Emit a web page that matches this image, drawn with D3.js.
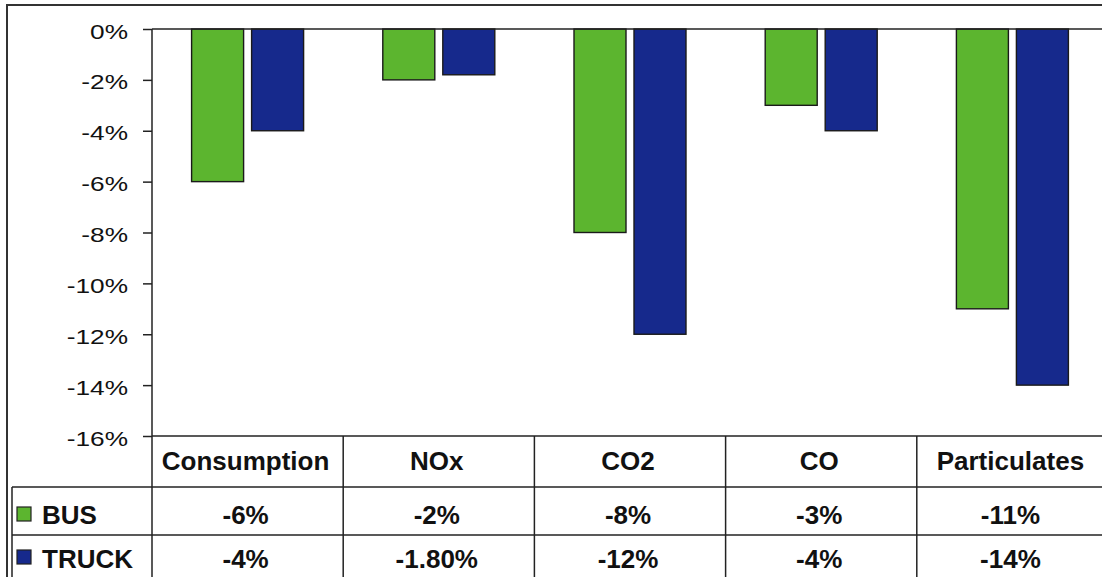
<!DOCTYPE html>
<html>
<head>
<meta charset="utf-8">
<script src="https://cdn.jsdelivr.net/npm/d3@7"></script>
<style>
  html, body { margin: 0; padding: 0; background: #fff; }
  svg { display: block; }
  text { font-family: "Liberation Sans", Arial, sans-serif; fill: #111; }
</style>
</head>
<body>
<svg id="chart" width="1102" height="577"></svg>
<script>
// Emission reductions by pollutant, for buses and trucks
const categories = ["Consumption", "NOx", "CO2", "CO", "Particulates"];
const series = ["BUS", "TRUCK"];
const busValues = [-6, -2, -8, -3, -11];
const truckValues = [-4, -1.8, -12, -4, -14];
const busLabels = ["-6%", "-2%", "-8%", "-3%", "-11%"];
const truckLabels = ["-4%", "-1.80%", "-12%", "-4%", "-14%"];
const yTicks = [0, -2, -4, -6, -8, -10, -12, -14, -16];

const colors = { BUS: "#5cb52f", TRUCK: "#16298c" };
const valuesBySeries = { BUS: busValues, TRUCK: truckValues };
const labelsBySeries = { BUS: busLabels, TRUCK: truckLabels };

const svg = d3.select("#chart");
const lineColor = "#222";

const plotLeft = 152, plotRight = 1108;
const yTop = 29, yBottom = 436;
const rowBusTop = 487, rowTruckTop = 535;

const x0 = d3.scaleBand().domain(categories).range([plotLeft, plotRight]);
const y = d3.scaleLinear().domain([0, -16]).range([yTop, yBottom]);

// inner scale places the two bars of each group around the band centre
const groupHalf = 56;
const x1 = d3.scaleBand().domain(series)
  .range([x0.bandwidth() / 2 - groupHalf, x0.bandwidth() / 2 + groupHalf])
  .paddingInner(8 / 60).paddingOuter(0);

// outer frame
svg.append("path")
  .attr("d", "M7,577 L7,5 L1102,5")
  .attr("fill", "none").attr("stroke", "#333").attr("stroke-width", 2);

// bars
const groups = svg.append("g").selectAll("g")
  .data(categories).join("g")
  .attr("transform", d => `translate(${x0(d)},0)`);

groups.selectAll("rect")
  .data((d, i) => series.map(s => ({ s, v: valuesBySeries[s][i] })))
  .join("rect")
  .attr("x", d => x1(d.s))
  .attr("width", x1.bandwidth())
  .attr("y", y(0))
  .attr("height", d => y(d.v) - y(0))
  .attr("fill", d => colors[d.s])
  .attr("stroke", "#1a1a1a").attr("stroke-width", 1.4);

// value axis
const yAxis = svg.append("g").attr("transform", `translate(${plotLeft},0)`)
  .call(d3.axisLeft(y).tickValues(yTicks).tickSize(9).tickFormat(d => d + "%"));
yAxis.select(".domain").remove();
yAxis.selectAll(".tick line").attr("stroke", lineColor).attr("stroke-width", 1.5);
yAxis.selectAll(".tick text")
  .attr("x", 0).attr("dy", 0)
  .attr("text-anchor", "end")
  .attr("font-size", 21)
  .attr("fill", "#111")
  .attr("transform", "translate(-24,9) scale(1.25,1)");

// zero line, axis line and data-table grid
const grid = svg.append("g").attr("stroke", lineColor).attr("stroke-width", 1.5);
grid.append("line").attr("x1", plotLeft).attr("x2", 1102).attr("y1", y(0)).attr("y2", y(0));
grid.append("line").attr("x1", plotLeft).attr("x2", plotLeft).attr("y1", y(0)).attr("y2", 577);
grid.append("line").attr("x1", plotLeft).attr("x2", 1102).attr("y1", y(-16)).attr("y2", y(-16));
grid.append("line").attr("x1", 12).attr("x2", 1102).attr("y1", rowBusTop).attr("y2", rowBusTop);
grid.append("line").attr("x1", 12).attr("x2", 1102).attr("y1", rowTruckTop).attr("y2", rowTruckTop);
grid.append("line").attr("x1", 12).attr("x2", 12).attr("y1", rowBusTop).attr("y2", 577);
grid.selectAll(".col").data(categories.slice(1)).join("line")
  .attr("x1", d => x0(d)).attr("x2", d => x0(d))
  .attr("y1", y(-16)).attr("y2", 577);

// table text
const tableText = svg.append("g")
  .attr("font-size", 26).attr("font-weight", "bold").attr("text-anchor", "middle");
const cx = d => x0(d) + x0.bandwidth() / 2 - 2;
tableText.selectAll(".hdr").data(categories).join("text")
  .attr("x", cx).attr("y", 470).text(d => d);
tableText.selectAll(".bus").data(categories).join("text")
  .attr("x", cx).attr("y", 524).text((d, i) => labelsBySeries.BUS[i]);
tableText.selectAll(".truck").data(categories).join("text")
  .attr("x", cx).attr("y", 568).text((d, i) => labelsBySeries.TRUCK[i]);

// legend keys in the table rows
const legendRows = [{ s: "BUS", key: 507, base: 524 }, { s: "TRUCK", key: 550, base: 568 }];
const legend = svg.append("g").selectAll("g").data(legendRows).join("g");
legend.append("rect")
  .attr("x", 17).attr("y", d => d.key).attr("width", 14).attr("height", 14)
  .attr("fill", d => colors[d.s]).attr("stroke", "#222").attr("stroke-width", 1.2);
legend.append("text")
  .attr("x", 42).attr("y", d => d.base)
  .attr("font-size", 26).attr("font-weight", "bold")
  .text(d => d.s);
</script>
</body>
</html>
